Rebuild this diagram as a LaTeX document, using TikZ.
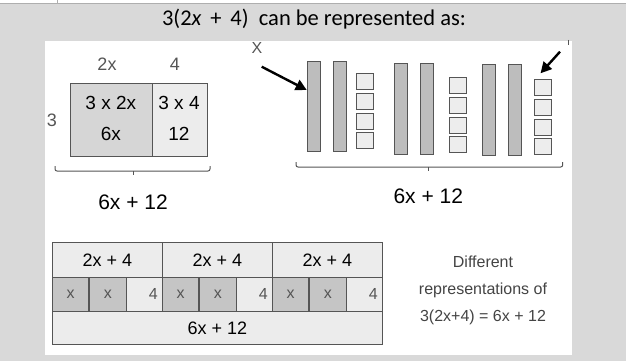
\documentclass[tikz,border=0pt]{standalone}
\usepackage{fontspec}
\setmainfont{Carlito}
\newfontfamily\hand{Liberation Sans}
\usetikzlibrary{arrows.meta,calc}
\definecolor{bgc}{HTML}{D9D9D9}
\definecolor{tiledark}{HTML}{BDBDBD}
\definecolor{tilelight}{HTML}{EDEDED}
\definecolor{celldark}{HTML}{D6D6D6}
\definecolor{celllight}{HTML}{ECECEC}
\definecolor{edge}{HTML}{555555}
\definecolor{pencil}{HTML}{555555}
\tikzset{
  xbar/.style={draw=edge, line width=0.9pt, fill=tiledark, minimum width=13pt, minimum height=90pt, inner sep=0pt, anchor=north west},
  unitsq/.style={draw=edge, line width=0.7pt, fill=tilelight, minimum width=17pt, minimum height=16pt, inner sep=0pt, anchor=north west},
  bigtxt/.style={font=\hand\fontsize{19}{21}\selectfont, text=black, inner sep=0pt},
  bartxt/.style={font=\hand\fontsize{18}{20}\selectfont, text=black, inner sep=0pt},
  sumtxt/.style={font=\hand\fontsize{21}{23}\selectfont, text=black, inner sep=0pt},
  graytxt/.style={font=\hand\fontsize{18}{20}\selectfont, text=pencil, inner sep=0pt},
  celltxt/.style={font=\hand\fontsize{16}{18}\selectfont, text=pencil, inner sep=0pt},
  brace/.style={draw=edge, line width=1pt, rounded corners=2pt},
  fat/.style={draw=black, line width=2.4pt, -{Triangle[length=11pt,width=11pt]}},
  cellbox/.style={draw=edge, line width=1.2pt, inner sep=0pt, anchor=north west},
}
\begin{document}
\begin{tikzpicture}[x=1pt,y=-1pt]
\fill[bgc] (0,0) rectangle (626,361);
\useasboundingbox (0,0) rectangle (626,361);
% top strip
\fill[white] (0,0) rectangle (626,3);
\draw[bgc!80!black, line width=0.5pt] (0,3) -- (626,3);
\draw[bgc!80!black, line width=0.5pt] (57,0) -- (57,3);
% white panel
\fill[white] (45,41) rectangle (572,355);
% title
\node[font=\fontsize{22.5}{25}\selectfont, inner sep=0pt] (title) at (314,19) {3(2\textit{x}\, +\, 4)\ \ can be represented as:};

% ---- area model ----
\node[graytxt] (l2x) at (107,64) {2x};
\node[graytxt] (l4) at (175,64) {4};
\node[graytxt] (l3) at (52,120) {3};
\node[cellbox, fill=celldark, minimum width=81.7pt, minimum height=73.3pt] (c1) at (70,82.7) {};
\node[cellbox, fill=celllight, minimum width=55pt, minimum height=73.3pt] (c2) at (151.7,82.7) {};
\node[bigtxt] (t1a) at (110.8,103) {3 x 2x};
\node[bigtxt] (t1b) at (110.8,134) {6x};
\node[bigtxt] (t2a) at (179,103) {3 x 4};
\node[bigtxt] (t2b) at (179,134) {12};
\coordinate (b1l) at (55,166);
\coordinate (b1r) at (210,166);
\draw[brace] (b1l) -- ++(0,5) -- ++(155,0) -- (b1r);
\draw[edge, line width=1pt] (133,171) -- (133,174.5);
\node[sumtxt] (s1) at (133,202) {6x + 12};

% ---- algebra tiles ----
\node[xbar] (x1) at (306.7,60.7) {};
\node[xbar] (x2) at (332.7,61) {};
\foreach \i/\yy in {1/73.3,2/93,3/112.7,4/132.4}
  \node[unitsq] (u1\i) at (356,\yy) {};
\node[xbar, minimum height=91pt] (x3) at (394.3,62.7) {};
\node[xbar, minimum height=91pt] (x4) at (420.3,62.7) {};
\foreach \i/\yy in {1/77.3,2/97,3/116.7,4/136.4}
  \node[unitsq] (u2\i) at (448.7,\yy) {};
\node[xbar, minimum height=91pt] (x5) at (482,64.3) {};
\node[xbar, minimum height=91pt] (x6) at (507.7,64.3) {};
\foreach \i/\yy in {1/79.3,2/99,3/118.7,4/138.4}
  \node[unitsq] (u3\i) at (534,\yy) {};
\node[celltxt] (xl) at (257,48) {X};
\coordinate (xa) at (261.7,66.7);
\draw[fat] (xa) -- (x1.west |- 0,90);
\coordinate (ra) at (560,51.7);
\draw[fat] (ra) -- (540.5,73.3);
\draw[edge, line width=0.8pt] (568.3,40) -- (568.3,45);
\coordinate (b2l) at (296,162);
\coordinate (b2r) at (562.7,162);
\draw[brace] (b2l) -- ++(0,5) -- ++(266.7,0) -- (b2r);
\draw[edge, line width=1pt] (428.3,167) -- (428.3,170.5);
\node[sumtxt] (s2) at (428.3,196.7) {6x + 12};

% ---- bar model ----
\node[cellbox, fill=celllight, minimum width=110pt, minimum height=35pt] (r1) at (51.7,241.7) {};
\node[cellbox, fill=celllight, minimum width=110pt, minimum height=35pt] (r2) at (161.7,241.7) {};
\node[cellbox, fill=celllight, minimum width=110pt, minimum height=35pt] (r3) at (271.7,241.7) {};
\node[bartxt] at (r1.center) (rt1) {2x + 4};
\node[bartxt] at (r2.center) (rt2) {2x + 4};
\node[bartxt] at (r3.center) (rt3) {2x + 4};
\foreach \g/\x in {1/51.7,2/161.7,3/271.7}{
  \node[cellbox, fill=celldark!92!black, minimum width=36.6pt, minimum height=34pt] (m\g a) at (\x,276.7) {};
  \node[cellbox, fill=celldark!92!black, minimum width=37.7pt, minimum height=34pt] (m\g b) at ($(\x,276.7)+(36.6,0)$) {};
  \node[cellbox, fill=celllight, minimum width=35.7pt, minimum height=34pt] (m\g c) at ($(\x,276.7)+(74.3,0)$) {};
  \node[celltxt] (mt\g a) at (m\g a.center) {x};
  \node[celltxt] (mt\g b) at (m\g b.center) {x};
  \node[celltxt, anchor=east] (mt\g c) at ($(m\g c.east)+(-5,0)$) {4};
}
\node[cellbox, fill=celllight, minimum width=330pt, minimum height=33.3pt] (r4) at (51.7,310.7) {};
\node[bartxt] (rt4) at (r4.center) {6x + 12};

% ---- caption ----
\node[align=center, font=\hand\fontsize{16}{27}\selectfont, text=pencil!80!black, inner sep=0pt] (cap) at (483,290) {Different\\representations of\\3(2x+4) = 6x + 12};
\end{tikzpicture}
\end{document}
